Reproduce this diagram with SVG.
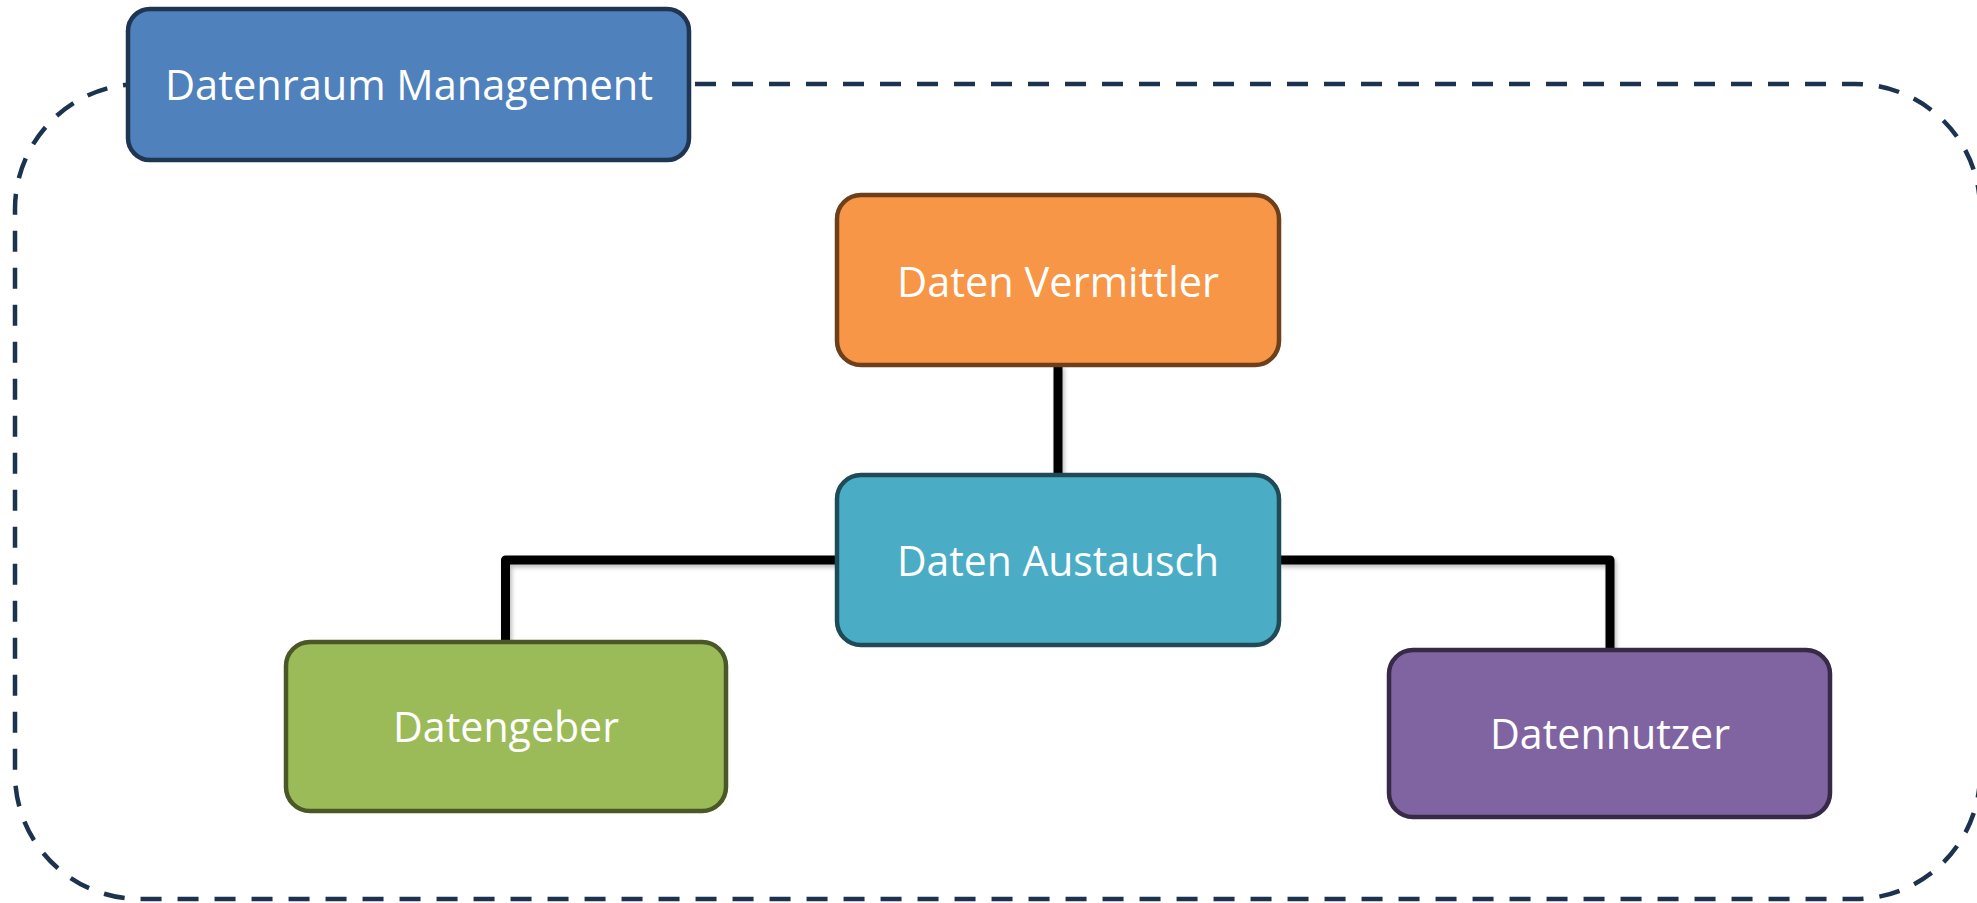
<svg xmlns="http://www.w3.org/2000/svg" width="1977" height="903" viewBox="0 0 1977 903">
<defs>
<style>
.box{stroke-width:4.5}
.lbl{font-family:"Open Sans","Noto Sans","DejaVu Sans",sans-serif;font-size:42px;fill:#ffffff;text-anchor:middle}
.conn{fill:none;stroke:#000000;stroke-width:9;stroke-linejoin:round}
.boundary{fill:none;stroke:#1c3350;stroke-width:4.5;stroke-dasharray:21 16}
</style>
<filter id="sh" x="-5%" y="-5%" width="110%" height="120%">
<feDropShadow dx="2" dy="3" stdDeviation="2" flood-color="#000000" flood-opacity="0.25"/>
</filter>
</defs>
<rect width="1977" height="903" fill="#ffffff"/>
<g id="boundary">
<rect class="boundary" x="15" y="84" width="1965" height="815" rx="125" ry="125"/>
</g>
<g id="connectors" filter="url(#sh)">
<path class="conn" d="M1058 365 V475"/>
<path class="conn" d="M837 560 H505.5 V642"/>
<path class="conn" d="M1279 560 H1610 V650"/>
</g>
<g id="datenraum-management">
<rect class="box" x="128" y="9" width="561" height="151" rx="22" fill="#4f81bd" stroke="#1f3552"/>
<text class="lbl" x="409" y="100" textLength="488" lengthAdjust="spacingAndGlyphs">Datenraum Management</text>
</g>
<g id="daten-vermittler">
<rect class="box" x="837" y="195" width="442" height="170" rx="24" fill="#f79646" stroke="#6d401b"/>
<text class="lbl" x="1058" y="297" textLength="322" lengthAdjust="spacingAndGlyphs">Daten Vermittler</text>
</g>
<g id="daten-austausch">
<rect class="box" x="837" y="475" width="442" height="170" rx="24" fill="#4bacc6" stroke="#1e4b57"/>
<text class="lbl" x="1058" y="576" textLength="322" lengthAdjust="spacingAndGlyphs">Daten Austausch</text>
</g>
<g id="datengeber">
<rect class="box" x="286" y="642" width="440" height="169" rx="24" fill="#9bbb59" stroke="#4a5726"/>
<text class="lbl" x="506" y="742" textLength="226" lengthAdjust="spacingAndGlyphs">Datengeber</text>
</g>
<g id="datennutzer">
<rect class="box" x="1389" y="650" width="441" height="167" rx="24" fill="#8064a2" stroke="#372a47"/>
<text class="lbl" x="1610" y="749" textLength="240" lengthAdjust="spacingAndGlyphs">Datennutzer</text>
</g>
</svg>
